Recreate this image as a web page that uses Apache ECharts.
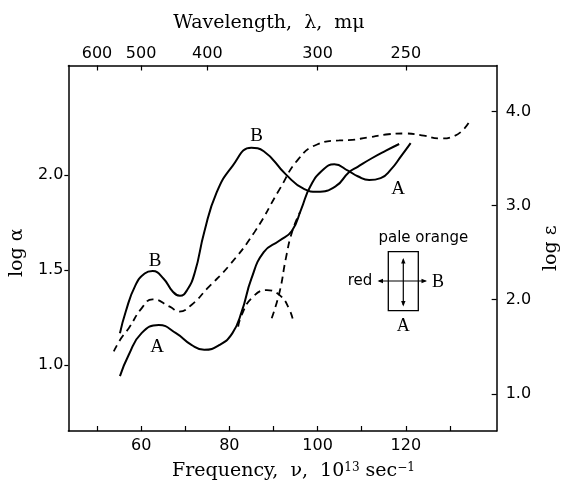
<!DOCTYPE html>
<html>
<head>
<meta charset="utf-8">
<script src="https://cdn.jsdelivr.net/npm/echarts@6/dist/echarts.min.js"></script>
<style>html,body{margin:0;padding:0;background:#fff;}#c{width:569px;height:486px;}</style>
</head>
<body>
<div id="c"></div>
<script>
// ---- axis ticks / labels ----
const freqTicks = [50, 60, 70, 80, 90, 100, 110, 120, 130];
const freqLabels = [60, 80, 100, 120];
const wavelengthTicks = [600, 500, 400, 300, 250];   // m\u03bc
const logAlphaTicks = [1.0, 1.5, 2.0];
const logEpsTicks = [1.0, 2.0, 3.0, 4.0];

// ---- curve B (solid, log alpha) ----
const nuB = [55.2, 56.5, 58.7, 60.8, 62.6, 65.1, 67.2, 68.8, 70.4, 72.2, 74.3, 77.1, 80.7, 85.0, 87.8, 92.8, 97.0, 99.9, 104.2, 107.0, 109.1, 112.3, 115.5, 118.5];
const logAlphaB = [1.167, 1.281, 1.42, 1.482, 1.495, 1.455, 1.386, 1.365, 1.394, 1.49, 1.70, 1.909, 2.049, 2.145, 2.127, 2.005, 1.927, 1.913, 1.944, 2.014, 2.045, 2.09, 2.13, 2.165];

// ---- curve A (solid, log alpha) ----
const nuA = [55.2, 57.2, 60.1, 64.0, 67.9, 71.4, 74.3, 77.8, 80.7, 82.8, 85.0, 87.8, 91.4, 94.2, 96.3, 98.4, 101.3, 103.8, 107.0, 109.1, 111.7, 114.3, 116.6, 118.9, 121.1];
const logAlphaA = [0.941, 1.054, 1.168, 1.211, 1.168, 1.106, 1.08, 1.106, 1.168, 1.281, 1.455, 1.595, 1.656, 1.708, 1.822, 1.944, 2.031, 2.058, 2.023, 1.995, 1.975, 1.985, 2.03, 2.10, 2.17];

// ---- solution spectrum (dashed, log epsilon) ----
const nuEps = [53.8, 55.5, 57.2, 60.1, 62.6, 66.5, 68.6, 71.4, 75.0, 80.0, 85.7, 91.4, 95.6, 99.9, 104.9, 107.0, 111.3, 115.5, 119.8, 124.1, 127.5, 131.2, 134.3];
const logEps = [1.451, 1.592, 1.697, 1.908, 2.004, 1.926, 1.874, 1.944, 2.12, 2.366, 2.719, 3.176, 3.493, 3.651, 3.694, 3.697, 3.725, 3.757, 3.768, 3.746, 3.715, 3.746, 3.884];

// ---- dashed hump (log epsilon) ----
const nuHump = [82.0, 82.8, 85.0, 88.5, 91.4, 93.5, 94.6];
const logEpsHump = [1.715, 1.838, 2.014, 2.102, 2.049, 1.908, 1.75];

// ---- dashed steep branch (log epsilon) ----
const nuSteep = [89.6, 91.4, 92.8, 94.2, 96.0];
const logEpsSteep = [1.803, 2.085, 2.437, 2.719, 2.93];

const zip = (xs, ys) => xs.map((x, i) => [x, ys[i]]);
// nu (10^13 s^-1) = c / lambda  with c = 3e17 nm/s
const nuOfLambda = l => 30000 / l;

const tickFont = { fontFamily: 'DejaVu Sans', fontSize: 16, color: '#000' };
const serif = 'DejaVu Serif';
const axisLine = { show: true, lineStyle: { color: '#000', width: 1.5 } };

const solid = { color: '#000', width: 2, type: 'solid' };
const dashed = { color: '#000', width: 1.8, type: [7, 5] };

function lineSeries(name, data, yIdx, style) {
  return { name, type: 'line', xAxisIndex: 0, yAxisIndex: yIdx, data, smooth: 0.5, symbol: 'none',
           lineStyle: style, silent: true, animation: false };
}

const chart = echarts.init(document.getElementById('c'), null, { renderer: 'canvas' });
chart.setOption({
  animation: false,
  backgroundColor: '#fff',
  grid: { left: 62.5, right: 51.5, top: 65.5, bottom: 52.5, containLabel: false },
  xAxis: [
    { type: 'value', position: 'bottom', min: 43.5, max: 140.6,
      name: 'Frequency,  \u03bd,  10{s|13} sec{s|\u22121}', nameLocation: 'middle', nameGap: 31,
      nameTextStyle: { fontFamily: serif, fontSize: 19, color: '#000', padding: [0, 0, 0, 22],
        rich: { s: { fontFamily: serif, fontSize: 12, verticalAlign: 'top', color: '#000' } } },
      axisLine, splitLine: { show: false },
      axisTick: { inside: true, length: 5, customValues: freqTicks, lineStyle: { color: '#000', width: 1.2 } },
      axisLabel: { customValues: freqLabels, margin: 7, ...tickFont } },
    { type: 'value', position: 'top', min: 43.5, max: 140.6,
      name: 'Wavelength,  \u03bb,  m\u03bc', nameLocation: 'middle', nameGap: 33,
      nameTextStyle: { fontFamily: serif, fontSize: 19, color: '#000', padding: [0, 27, 0, 0] },
      axisLine, splitLine: { show: false },
      axisTick: { inside: true, length: 5, customValues: wavelengthTicks.map(nuOfLambda), lineStyle: { color: '#000', width: 1.2 } },
      axisLabel: { customValues: wavelengthTicks.map(nuOfLambda), margin: 4, ...tickFont,
        formatter: v => String(Math.round(30000 / v)) } }
  ],
  yAxis: [
    { type: 'value', position: 'left', min: 0.652, max: 2.579,
      name: 'log \u03b1', nameLocation: 'middle', nameGap: 31,
      nameTextStyle: { fontFamily: serif, fontSize: 19, color: '#000', padding: [0, 9, 0, 0] },
      axisLine, splitLine: { show: false },
      axisTick: { show: true, inside: false, length: 4, customValues: logAlphaTicks, lineStyle: { color: '#000', width: 1.2 } },
      axisLabel: { customValues: logAlphaTicks, margin: 5, ...tickFont, formatter: v => v.toFixed(1) } },
    { type: 'value', position: 'right', min: 0.604, max: 4.491,
      name: 'log \u03b5', nameLocation: 'middle', nameGap: 28, nameRotate: 90,
      nameTextStyle: { fontFamily: serif, fontSize: 19, color: '#000' },
      axisLine, splitLine: { show: false },
      axisTick: { show: true, inside: true, length: 5, customValues: logEpsTicks, lineStyle: { color: '#000', width: 1.2 } },
      axisLabel: { customValues: logEpsTicks, margin: 9, ...tickFont, formatter: v => v.toFixed(1) } }
  ],
  series: [
    lineSeries('B', zip(nuB, logAlphaB), 0, solid),
    lineSeries('A', zip(nuA, logAlphaA), 0, solid),
    lineSeries('solution', zip(nuEps, logEps), 1, dashed),
    lineSeries('hump', zip(nuHump, logEpsHump), 1, dashed),
    lineSeries('steep', zip(nuSteep, logEpsSteep), 1, dashed)
  ],
  graphic: { elements: [
    { type: 'text', x: 256.7, y: 136, style: { text: 'B', font: '19px "Liberation Serif"', textAlign: 'center', textVerticalAlign: 'middle', fill: '#000' } },
    { type: 'text', x: 155, y: 261, style: { text: 'B', font: '19px "Liberation Serif"', textAlign: 'center', textVerticalAlign: 'middle', fill: '#000' } },
    { type: 'text', x: 157, y: 347, style: { text: 'A', font: '19px "Liberation Serif"', textAlign: 'center', textVerticalAlign: 'middle', fill: '#000' } },
    { type: 'text', x: 398, y: 189, style: { text: 'A', font: '19px "Liberation Serif"', textAlign: 'center', textVerticalAlign: 'middle', fill: '#000' } },
    // inset diagram
    { type: 'rect', shape: { x: 388.3, y: 251.7, width: 30, height: 59 }, style: { fill: 'none', stroke: '#000', lineWidth: 1.3 } },
    { type: 'line', shape: { x1: 379, y1: 281, x2: 425.5, y2: 281 }, style: { stroke: '#000', lineWidth: 1.2 } },
    { type: 'polygon', shape: { points: [[377.5, 281], [383, 278.8], [383, 283.2]] }, style: { fill: '#000' } },
    { type: 'polygon', shape: { points: [[427, 281], [421.5, 278.8], [421.5, 283.2]] }, style: { fill: '#000' } },
    { type: 'line', shape: { x1: 403.3, y1: 259.5, x2: 403.3, y2: 305 }, style: { stroke: '#000', lineWidth: 1.2 } },
    { type: 'polygon', shape: { points: [[403.3, 258], [401.1, 263.5], [405.5, 263.5]] }, style: { fill: '#000' } },
    { type: 'polygon', shape: { points: [[403.3, 306.5], [401.1, 301], [405.5, 301]] }, style: { fill: '#000' } },
    { type: 'text', x: 423.3, y: 238, style: { text: 'pale orange', font: '15px "DejaVu Sans"', textAlign: 'center', textVerticalAlign: 'middle', fill: '#000' } },
    { type: 'text', x: 360, y: 281, style: { text: 'red', font: '15px "DejaVu Sans"', textAlign: 'center', textVerticalAlign: 'middle', fill: '#000' } },
    { type: 'text', x: 438, y: 282, style: { text: 'B', font: '18px "Liberation Serif"', textAlign: 'center', textVerticalAlign: 'middle', fill: '#000' } },
    { type: 'text', x: 403.3, y: 326, style: { text: 'A', font: '18px "Liberation Serif"', textAlign: 'center', textVerticalAlign: 'middle', fill: '#000' } }
  ] }
});
</script>
</body>
</html>
